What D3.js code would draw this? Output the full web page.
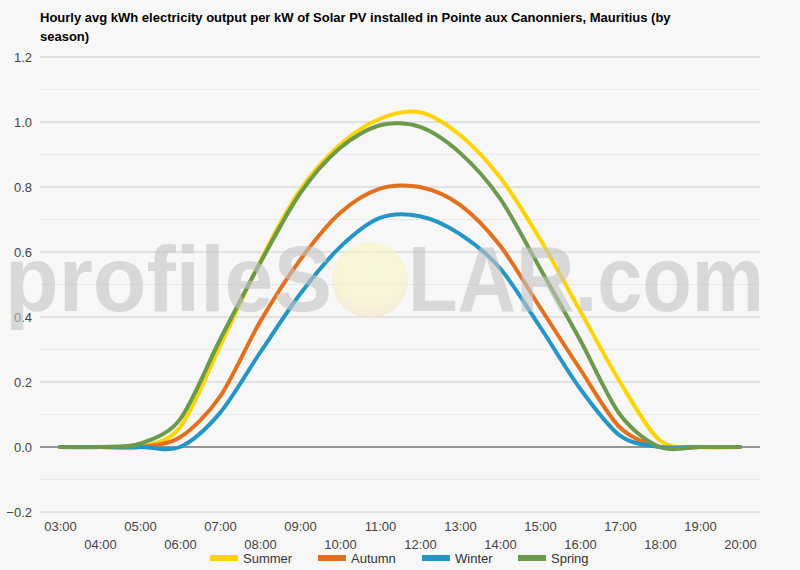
<!DOCTYPE html>
<html>
<head>
<meta charset="utf-8">
<script src="https://cdn.jsdelivr.net/npm/d3@7"></script>
<style>
  body { margin: 0; background: #f7f7f7; }
  svg { display: block; font-family: "Liberation Sans", Arial, sans-serif; }
</style>
</head>
<body>
<script>
var hours = ["03:00", "04:00", "05:00", "06:00", "07:00", "08:00", "09:00", "10:00", "11:00",
    "12:00", "13:00", "14:00", "15:00", "16:00", "17:00", "18:00", "19:00", "20:00"];
var summer = [0, 0, 0, 0.06, 0.31, 0.57, 0.79, 0.93, 1.01, 1.03, 0.96, 0.83, 0.64, 0.42, 0.20, 0.02, 0, 0];
var autumn = [0, 0, 0, 0.03, 0.155, 0.385, 0.575, 0.72, 0.795, 0.80, 0.745, 0.62, 0.43, 0.24, 0.06, 0, 0, 0];
var winter = [0, 0, 0, 0, 0.105, 0.29, 0.47, 0.615, 0.705, 0.71, 0.655, 0.55, 0.37, 0.18, 0.035, 0, 0, 0];
var spring = [0, 0, 0.01, 0.085, 0.33, 0.565, 0.78, 0.92, 0.99, 0.985, 0.905, 0.765, 0.55, 0.33, 0.10, 0, 0, 0];
var seasonNames = ["Summer", "Autumn", "Winter", "Spring"];
var yTicks = [-0.2, 0, 0.2, 0.4, 0.6, 0.8, 1.0, 1.2];
var yMinorTicks = [-0.1, 0.1, 0.3, 0.5, 0.7, 0.9, 1.1];

var colors = ["#ffd400", "#e4701e", "#2496c6", "#6b9a4a"];
var series = [summer, autumn, winter, spring];

var width = 800, height = 570;
var plot = { left: 40, right: 760, top: 57, bottom: 512 };

var svg = d3.select("body")
    .append("svg")
    .attr("width", width)
    .attr("height", height);

svg.append("rect")
    .attr("width", width)
    .attr("height", height)
    .attr("fill", "#f7f7f7");

// titulo
var title = svg.append("text")
    .attr("x", 40)
    .attr("y", 22)
    .style("font-size", "13px")
    .style("font-weight", "bold")
    .attr("fill", "#000");
title.append("tspan")
    .attr("x", 40)
    .text("Hourly avg kWh electricity output per kW of Solar PV installed in Pointe aux Canonniers, Mauritius (by");
title.append("tspan")
    .attr("x", 40)
    .attr("dy", 19)
    .text("season)");

// Escalas
var xScale = d3.scalePoint()
    .domain(hours)
    .range([plot.left, plot.right])
    .padding(0.5);

var yScale = d3.scaleLinear()
    .domain([-0.2, 1.2])
    .range([plot.bottom, plot.top]);

// grade
svg.selectAll("line.minor")
    .data(yMinorTicks)
    .enter()
    .append("line")
    .attr("class", "minor")
    .attr("x1", plot.left)
    .attr("x2", plot.right)
    .attr("y1", d => yScale(d))
    .attr("y2", d => yScale(d))
    .attr("stroke", "#e8e8e8")
    .attr("stroke-width", 1);

svg.selectAll("line.major")
    .data(yTicks.filter(d => d !== 0))
    .enter()
    .append("line")
    .attr("class", "major")
    .attr("x1", plot.left)
    .attr("x2", plot.right)
    .attr("y1", d => yScale(d))
    .attr("y2", d => yScale(d))
    .attr("stroke", "#cccccc")
    .attr("stroke-width", 1);

var defs = svg.append("defs");
var grad = defs.append("radialGradient")
    .attr("id", "sun")
    .attr("cx", "50%").attr("cy", "40%").attr("r", "60%");
grad.append("stop").attr("offset", "0%").attr("stop-color", "#fbf8c8");
grad.append("stop").attr("offset", "70%").attr("stop-color", "#f9f3c4");
grad.append("stop").attr("offset", "100%").attr("stop-color", "#f6e2c6");

// Eixo Y
var yAxis = svg.append("g")
    .attr("transform", "translate(" + plot.left + ",0)")
    .call(d3.axisLeft(yScale)
        .tickValues(yTicks)
        .tickFormat(d3.format(".1f"))
        .tickSize(0)
        .tickPadding(8));
yAxis.select(".domain").remove();
yAxis.selectAll("text")
    .attr("fill", "#444")
    .style("font-size", "13px")
    .style("font-family", "'Liberation Sans', Arial, sans-serif");

// Eixo X (duas linhas)
var xAxis = svg.append("g")
    .attr("transform", "translate(0," + plot.bottom + ")")
    .call(d3.axisBottom(xScale).tickSize(0).tickPadding(0));
xAxis.select(".domain").remove();
xAxis.selectAll("text")
    .attr("y", (d, i) => i % 2 === 0 ? 19 : 37)
    .attr("dy", 0)
    .attr("fill", "#444")
    .style("font-size", "13px")
    .style("font-family", "'Liberation Sans', Arial, sans-serif");

// linha zero
svg.append("line")
    .attr("x1", plot.left)
    .attr("x2", plot.right)
    .attr("y1", yScale(0))
    .attr("y2", yScale(0))
    .attr("stroke", "#333")
    .attr("stroke-width", 1);

// linhas
var line = d3.line()
    .x((d, i) => xScale(hours[i]))
    .y(d => yScale(d))
    .curve(d3.curveCardinal.tension(0.1));

svg.selectAll("path.season")
    .data(series)
    .enter()
    .append("path")
    .attr("class", "season")
    .attr("d", d => line(d))
    .attr("fill", "none")
    .attr("stroke", (d, i) => colors[i])
    .attr("stroke-width", 4)
    .attr("stroke-linejoin", "round")
    .attr("stroke-linecap", "round");

// marca d'agua
var wm = svg.append("g").attr("opacity", 0.6);
wm.append("ellipse")
    .attr("cx", 370)
    .attr("cy", 280)
    .attr("rx", 38)
    .attr("ry", 38)
    .attr("fill", "url(#sun)");
wm.append("text")
    .attr("x", 5)
    .attr("y", 311)
    .attr("textLength", 327)
    .attr("lengthAdjust", "spacingAndGlyphs")
    .style("font-size", "92px")
    .style("font-weight", "bold")
    .attr("fill", "#c4c4c4")
    .text("profileS");
wm.append("text")
    .attr("x", 408)
    .attr("y", 311)
    .attr("textLength", 356)
    .attr("lengthAdjust", "spacingAndGlyphs")
    .style("font-size", "92px")
    .style("font-weight", "bold")
    .attr("fill", "#c4c4c4")
    .text("LAR.com");

// legenda
var legendX = [210, 318, 422, 518];
var legend = svg.selectAll("g.legend")
    .data(seasonNames)
    .enter()
    .append("g")
    .attr("class", "legend")
    .attr("transform", (d, i) => "translate(" + legendX[i] + ",558)");
legend.append("rect")
    .attr("x", 0)
    .attr("y", -3)
    .attr("width", 28)
    .attr("height", 6)
    .attr("fill", (d, i) => colors[i]);
legend.append("text")
    .attr("x", 33)
    .attr("y", 5)
    .style("font-size", "13px")
    .attr("fill", "#333")
    .text(d => d);
</script>
</body>
</html>
